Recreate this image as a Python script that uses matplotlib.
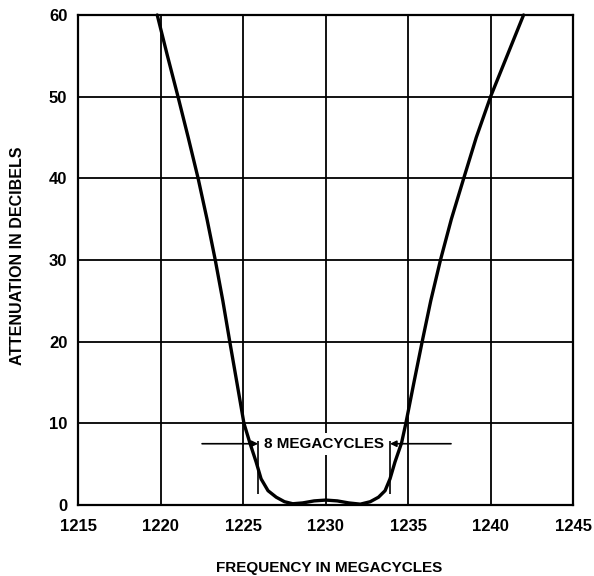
#!/usr/bin/env python3
"""
Attenuation vs frequency curve (band-pass filter response)
"""
import matplotlib
matplotlib.use('Agg')
import matplotlib.pyplot as plt

# curve: frequency (Mc) and attenuation (dB)
freq = [1219.78, 1220.4, 1221.04, 1221.66, 1222.26, 1222.8, 1223.3, 1223.76,
        1224.18, 1224.62, 1225.04, 1225.4, 1225.78, 1226.08, 1226.5, 1227.0,
        1227.5, 1228.0, 1228.6, 1229.3, 1230.0, 1230.7, 1231.4, 1232.1,
        1232.7, 1233.2, 1233.6, 1233.9, 1234.2, 1234.6, 1234.86, 1235.35,
        1235.85, 1236.37, 1236.96, 1237.62, 1238.37, 1239.13, 1240.0, 1241.0,
        1242.0]
atten = [60.0, 55.0, 50.0, 45.0, 40.0, 35.0, 30.0, 25.0,
         20.0, 14.9, 10.0, 7.6, 5.26, 3.2, 1.75, 0.95,
         0.4, 0.15, 0.25, 0.5, 0.6, 0.5, 0.25, 0.1,
         0.4, 0.95, 1.75, 3.2, 5.26, 7.6, 10.0, 15.0,
         20.0, 25.0, 30.0, 35.0, 40.0, 45.0, 50.0, 55.0,
         60.0]

x_ticks = [1215, 1220, 1225, 1230, 1235, 1240, 1245]
y_ticks = [0, 10, 20, 30, 40, 50, 60]

# 8 Mc bandwidth marks
band_edges = [1225.9, 1233.9]
band_level = 7.5
band_label = '8 MEGACYCLES'

plt.rcParams['font.family'] = ['Liberation Sans', 'DejaVu Sans']
plt.rcParams['font.weight'] = 'bold'

fig = plt.figure(figsize=(5.94, 5.76), dpi=100)
ax = fig.add_axes([0.132, 0.1233, 0.8327, 0.8507])

ax.set_xlim(x_ticks[0], x_ticks[-1])
ax.set_ylim(y_ticks[0], y_ticks[-1])
ax.set_xticks(x_ticks)
ax.set_yticks(y_ticks)
ax.tick_params(length=0, labelsize=12)
ax.tick_params(axis='x', pad=10)
ax.tick_params(axis='y', pad=8)
for lbl in ax.get_xticklabels() + ax.get_yticklabels():
    lbl.set_fontweight('bold')

ax.set_axisbelow(True)
ax.grid(True, color='black', linewidth=1.3)
for sp in ax.spines.values():
    sp.set_linewidth(1.6)

# response curve
ax.plot(freq, atten, color='black', linewidth=2.4, zorder=4,
        solid_joinstyle='round', solid_capstyle='round', clip_on=False)

# bandwidth dimension
ax.vlines(band_edges, 1.3, 7.8, color='black', linewidth=1.2, zorder=3)
ax.annotate('', xy=(band_edges[0], band_level), xytext=(1222.5, band_level),
            arrowprops=dict(arrowstyle='-|>', color='black', lw=1.2,
                            mutation_scale=9, shrinkA=0, shrinkB=0), zorder=3)
ax.annotate('', xy=(band_edges[1], band_level), xytext=(1237.6, band_level),
            arrowprops=dict(arrowstyle='-|>', color='black', lw=1.2,
                            mutation_scale=9, shrinkA=0, shrinkB=0), zorder=3)
ax.text(sum(band_edges) / 2, band_level, band_label, ha='center', va='center',
        fontsize=11, fontweight='bold', zorder=2,
        bbox=dict(boxstyle='square,pad=0.25', facecolor='white', edgecolor='none'))

ax.set_xlabel('FREQUENCY IN MEGACYCLES', fontsize=11, fontweight='bold', va='center')
ax.xaxis.set_label_coords(0.507, -0.1276)
ax.set_ylabel('ATTENUATION IN DECIBELS', fontsize=11.5, fontweight='bold', va='center')
ax.yaxis.set_label_coords(-0.124, 0.508)

fig.savefig('out.png', dpi=100)
plt.close(fig)
print('Saved: out.png')
